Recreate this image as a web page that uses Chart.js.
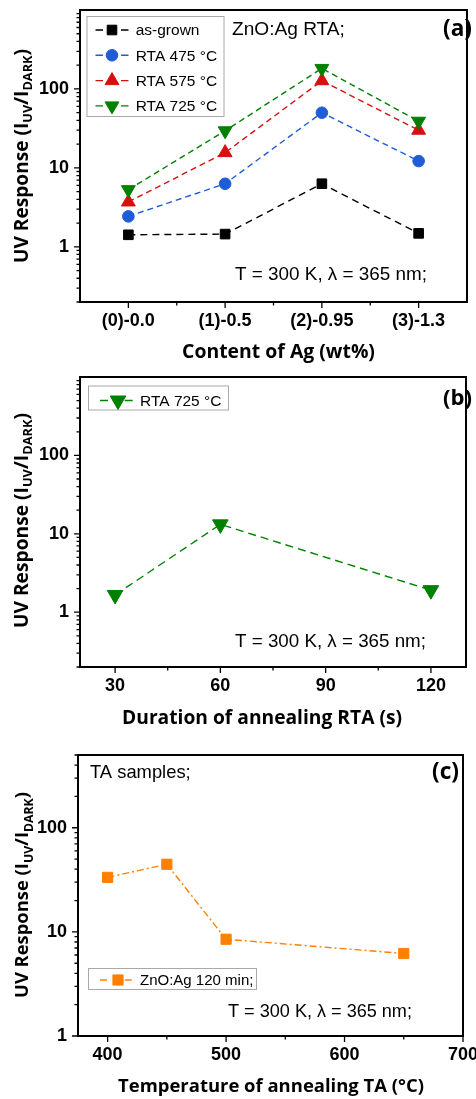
<!DOCTYPE html>
<html><head><meta charset="utf-8">
<script src="https://cdn.jsdelivr.net/npm/chart.js@4.4.1/dist/chart.umd.min.js"></script>
<style>
html,body{margin:0;padding:0;background:#fff;}
.panel{position:absolute;left:0;width:476px;}
canvas{display:block;}
</style></head><body>
<div class="panel" style="top:0;height:365px"><canvas id="chartA" width="476" height="365"></canvas></div>
<div class="panel" style="top:365px;height:365px"><canvas id="chartB" width="476" height="365"></canvas></div>
<div class="panel" style="top:730px;height:369px"><canvas id="chartC" width="476" height="369"></canvas></div>
<script>
// ---------- data ----------
const categoriesA = ['(0)-0.0', '(1)-0.5', '(2)-0.95', '(3)-1.3'];
const asGrown = [1.42, 1.45, 6.3, 1.48];
const rta475 = [2.43, 6.3, 50, 12.2];
const rta575 = [3.7, 15.6, 127, 30];
const rta725 = [5.3, 29.5, 182, 39];
const yTicksA = [1, 10, 100];

const durationB = [30, 60, 120];
const rta725B = [1.66, 13.2, 1.91];
const xTicksB = [30, 60, 90, 120];
const yTicksB = [1, 10, 100];

const tempC = [400, 450, 500, 650];
const ta120 = [33.4, 44.6, 8.5, 6.2];
const xTicksC = [400, 500, 600, 700];
const yTicksC = [1, 10, 100];

const labelsA = ['as-grown', 'RTA 475 °C', 'RTA 575 °C', 'RTA 725 °C'];
const labelB = 'RTA 725 °C';
const labelC = 'ZnO:Ag 120 min;';
const xTitleA = 'Content of Ag (wt%)';
const xTitleB = 'Duration of annealing RTA (s)';
const xTitleC = 'Temperature of annealing TA (°C)';
const yTitleParts = [{t: 'UV Response (I'}, {t: 'UV', sub: true}, {t: '/I'}, {t: 'DARK', sub: true}, {t: ')'}];
const condText = 'T = 300 K, λ = 365 nm;';

// ---------- helpers ----------
const BOLD = '"Open Sans", "Liberation Sans", Arial, sans-serif';
const TICKF = '"Liberation Sans", Arial, sans-serif';
const REG = '"Liberation Sans", Arial, sans-serif';
const W = 476;

function logMinors(min, max) {
  const out = [];
  for (let e = Math.floor(Math.log10(min)); e <= Math.floor(Math.log10(max)); e++) {
    for (let m = 2; m <= 9; m++) {
      const v = +(m * Math.pow(10, e)).toPrecision(6);
      if (v >= min && v <= max) out.push(v);
    }
  }
  return out;
}

function fitFont(ctx, text, weight, size, family, fitW) {
  ctx.font = weight + ' ' + size + 'px ' + family;
  if (fitW) {
    const w = ctx.measureText(text).width;
    size = size * fitW / w;
    ctx.font = weight + ' ' + size + 'px ' + family;
  }
  return size;
}

function drawText(ctx, t) {
  fitFont(ctx, t.text, t.weight || 'normal', t.size, t.family || REG, t.fit);
  ctx.fillStyle = '#000';
  ctx.textAlign = t.align || 'left';
  ctx.textBaseline = 'middle';
  ctx.fillText(t.text, t.x, t.y);
}

function drawYTitle(ctx, o) {
  ctx.save();
  ctx.translate(o.x, o.y);
  ctx.rotate(-Math.PI / 2);
  const mainF = 'bold ' + o.size + 'px ' + BOLD;
  const subF = 'bold ' + o.sub + 'px ' + BOLD;
  let total = 0;
  yTitleParts.forEach(p => { ctx.font = p.sub ? subF : mainF; p.w = ctx.measureText(p.t).width; total += p.w; });
  const k = o.len / total;
  const mainF2 = 'bold ' + (o.size * k) + 'px ' + BOLD;
  const subF2 = 'bold ' + (o.sub * k) + 'px ' + BOLD;
  let cx = -o.len / 2;
  ctx.fillStyle = '#000';
  ctx.textAlign = 'left';
  ctx.textBaseline = 'alphabetic';
  yTitleParts.forEach(p => {
    ctx.font = p.sub ? subF2 : mainF2;
    ctx.fillText(p.t, cx, p.sub ? 4.5 : 0);
    cx += p.w * k;
  });
  ctx.restore();
}

const decorPlugin = {
  id: 'decor',
  afterDraw(chart, args, o) {
    const ctx = chart.ctx, a = chart.chartArea, xs = chart.scales.x, ys = chart.scales.y;
    ctx.save();
    ctx.setLineDash([]);
    ctx.strokeStyle = '#000';
    ctx.lineWidth = 1.3;
    ctx.beginPath();
    o.xMajor.forEach(v => { const p = xs.getPixelForValue(v); ctx.moveTo(p, a.bottom); ctx.lineTo(p, a.bottom + 6); });
    o.xMinor.forEach(v => { const p = xs.getPixelForValue(v); ctx.moveTo(p, a.bottom); ctx.lineTo(p, a.bottom + 3.5); });
    o.yMajor.forEach(v => { const p = ys.getPixelForValue(v); ctx.moveTo(a.left, p); ctx.lineTo(a.left - 6, p); });
    o.yMinor.forEach(v => { const p = ys.getPixelForValue(v); ctx.moveTo(a.left, p); ctx.lineTo(a.left - 3.5, p); });
    ctx.stroke();
    ctx.lineWidth = 2;
    ctx.strokeRect(a.left, a.top, a.right - a.left, a.bottom - a.top);

    // legend
    const L = o.legend;
    ctx.lineWidth = 1;
    ctx.strokeStyle = '#a8a8a8';
    ctx.strokeRect(L.x + 0.5, L.y + 0.5, L.w, L.h);
    chart.data.datasets.forEach((ds, i) => {
      const cy = L.y + L.first + i * L.step;
      ctx.setLineDash([]);
      ctx.strokeStyle = ds.borderColor;
      ctx.lineWidth = ds.borderWidth;
      ctx.beginPath();
      ctx.moveTo(L.lx1, cy); ctx.lineTo(L.lx1 + L.seg, cy);
      ctx.moveTo(L.lx2 - L.seg, cy); ctx.lineTo(L.lx2, cy);
      ctx.stroke();
      ctx.fillStyle = ds.pointBackgroundColor;
      ctx.strokeStyle = ds.pointBorderColor;
      ctx.lineWidth = ds.pointBorderWidth;
      Chart.helpers.drawPoint(ctx, {pointStyle: ds.pointStyle, radius: ds.pointRadius, rotation: ds.pointRotation || 0, borderWidth: ds.pointBorderWidth}, L.mx, cy);
      fitFont(ctx, ds.label, 'normal', L.size, REG, null);
      ctx.fillStyle = '#000';
      ctx.textAlign = 'left';
      ctx.textBaseline = 'middle';
      ctx.fillText(ds.label, L.tx, cy + 1);
    });

    o.texts.forEach(t => drawText(ctx, t));
    drawYTitle(ctx, o.yTitle);
    drawText(ctx, o.xTitle);
    ctx.restore();
  }
};

function makeChart(id, H, area, xScale, yScale, datasets, decor, labels) {
  const tickFont = {family: TICKF, size: 18, weight: 'bold'};
  xScale = Object.assign({
    position: 'bottom',
    grid: {display: false, drawTicks: false},
    border: {display: false},
    ticks: {color: '#000', font: tickFont, padding: 8, maxRotation: 0, autoSkip: false},
    afterFit: s => { s.height = H - area.b; s.paddingLeft = 0; s.paddingRight = 0; }
  }, xScale);
  yScale = Object.assign({
    type: 'logarithmic',
    position: 'left',
    grid: {display: false, drawTicks: false},
    border: {display: false},
    ticks: {color: '#000', font: tickFont, padding: 11, autoSkip: false, callback: v => String(v)},
    afterFit: s => { s.width = area.l; s.paddingTop = 0; s.paddingBottom = 0; }
  }, yScale);
  return new Chart(document.getElementById(id), {
    type: 'line',
    data: {labels: labels, datasets: datasets},
    options: {
      responsive: false,
      animation: false,
      devicePixelRatio: 1,
      layout: {padding: {left: 0, top: area.t, right: W - area.r, bottom: 0}},
      plugins: {legend: {display: false}, tooltip: {enabled: false}, decor: decor},
      scales: {x: xScale, y: yScale}
    },
    plugins: [decorPlugin]
  });
}

function series(label, data, color, dash, style, radius, rotation, order) {
  return {
    label: label, data: data,
    borderColor: color, backgroundColor: color, borderWidth: 1.4, borderDash: dash,
    pointStyle: style, pointRadius: radius, pointRotation: rotation,
    pointBackgroundColor: color, pointBorderColor: color, pointBorderWidth: 1,
    pointHoverRadius: radius, tension: 0, fill: false, clip: false, order: order
  };
}

// ---------- panel (a) ----------
const areaA = {l: 80, t: 10, r: 475, b: 302};
makeChart('chartA', 365, areaA,
  {type: 'category', offset: true},
  {min: 0.2, max: 1000, afterBuildTicks: s => { s.ticks = yTicksA.map(v => ({value: v})); }},
  [
    series(labelsA[0], asGrown, '#000000', [7, 5], 'rect', 6.8, 0, 3),
    series(labelsA[1], rta475, '#1f5cd6', [6, 4], 'circle', 5.8, 0, 2),
    series(labelsA[2], rta575, '#d61010', [6, 4], 'triangle', 8, 0, 1),
    series(labelsA[3], rta725, '#008000', [6, 4], 'triangle', 8, 180, 0)
  ],
  {
    xMajor: categoriesA.map((c, i) => i),
    xMinor: categoriesA.slice(1).map((c, i) => i + 0.5),
    yMajor: yTicksA, yMinor: logMinors(0.2, 1000),
    legend: {x: 86.5, y: 16, w: 137, h: 100, first: 14, step: 25.3, lx1: 95.5, lx2: 128.5, seg: 7.5, mx: 112, tx: 135.7, size: 15.5},
    texts: [
      {text: 'ZnO:Ag RTA;', x: 232, y: 30, size: 18.5, fit: 113},
      {text: condText, x: 331, y: 275, size: 18.5, fit: 192, align: 'center'},
      {text: '(a)', x: 472, y: 30, size: 21, weight: 'bold', family: BOLD, align: 'right', fit: 29}
    ],
    yTitle: {x: 27.5, y: 156, size: 18, sub: 12, len: 214},
    xTitle: {text: xTitleA, x: 278.5, y: 352, size: 19, weight: 'bold', family: BOLD, align: 'center', fit: 193}
  },
  categoriesA
);

// ---------- panel (b) ----------
const areaB = {l: 80, t: 12, r: 475, b: 302};
makeChart('chartB', 365, areaB,
  {type: 'linear', min: 20, max: 130, afterBuildTicks: s => { s.ticks = xTicksB.map(v => ({value: v})); }},
  {min: 0.2, max: 1000, afterBuildTicks: s => { s.ticks = yTicksB.map(v => ({value: v})); }},
  [series(labelB, durationB.map((x, i) => ({x: x, y: rta725B[i]})), '#008000', [8, 5], 'triangle', 9, 180, 0)],
  {
    xMajor: xTicksB, xMinor: [45, 75, 105],
    yMajor: yTicksB, yMinor: logMinors(0.2, 1000),
    legend: {x: 88, y: 20.5, w: 140, h: 24, first: 15, step: 25, lx1: 100, lx2: 132.7, seg: 8, mx: 118, tx: 140, size: 15.5},
    texts: [
      {text: condText, x: 330.5, y: 276.7, size: 18.5, fit: 191, align: 'center'},
      {text: '(b)', x: 472, y: 33.3, size: 21, weight: 'bold', family: BOLD, align: 'right', fit: 29}
    ],
    yTitle: {x: 27.5, y: 155.5, size: 18, sub: 12, len: 215},
    xTitle: {text: xTitleB, x: 262, y: 353.3, size: 19, weight: 'bold', family: BOLD, align: 'center', fit: 280}
  }
);

// ---------- panel (c) ----------
const areaC = {l: 78, t: 25, r: 463, b: 306};
makeChart('chartC', 369, areaC,
  {type: 'linear', min: 375, max: 700, afterBuildTicks: s => { s.ticks = xTicksC.map(v => ({value: v})); }},
  {min: 1, max: 500, afterBuildTicks: s => { s.ticks = yTicksC.map(v => ({value: v})); }},
  [series(labelC, tempC.map((x, i) => ({x: x, y: ta120[i]})), '#ff8000', [7, 3, 2, 3], 'rect', 7.2, 0, 0)],
  {
    xMajor: xTicksC, xMinor: [450, 550, 650],
    yMajor: yTicksC, yMinor: logMinors(1, 500),
    legend: {x: 88, y: 238, w: 168, h: 21, first: 12, step: 25, lx1: 100, lx2: 131.7, seg: 7, mx: 118, tx: 140, size: 15},
    texts: [
      {text: 'TA samples;', x: 90, y: 43, size: 18, fit: 100.7},
      {text: condText, x: 320, y: 281.7, size: 18, fit: 184, align: 'center'},
      {text: '(c)', x: 459, y: 43, size: 21, weight: 'bold', family: BOLD, align: 'right', fit: 27}
    ],
    yTitle: {x: 28, y: 165, size: 18, sub: 12, len: 206},
    xTitle: {text: xTitleC, x: 271, y: 356.7, size: 19, weight: 'bold', family: BOLD, align: 'center', fit: 306}
  }
);
</script>
</body></html>
